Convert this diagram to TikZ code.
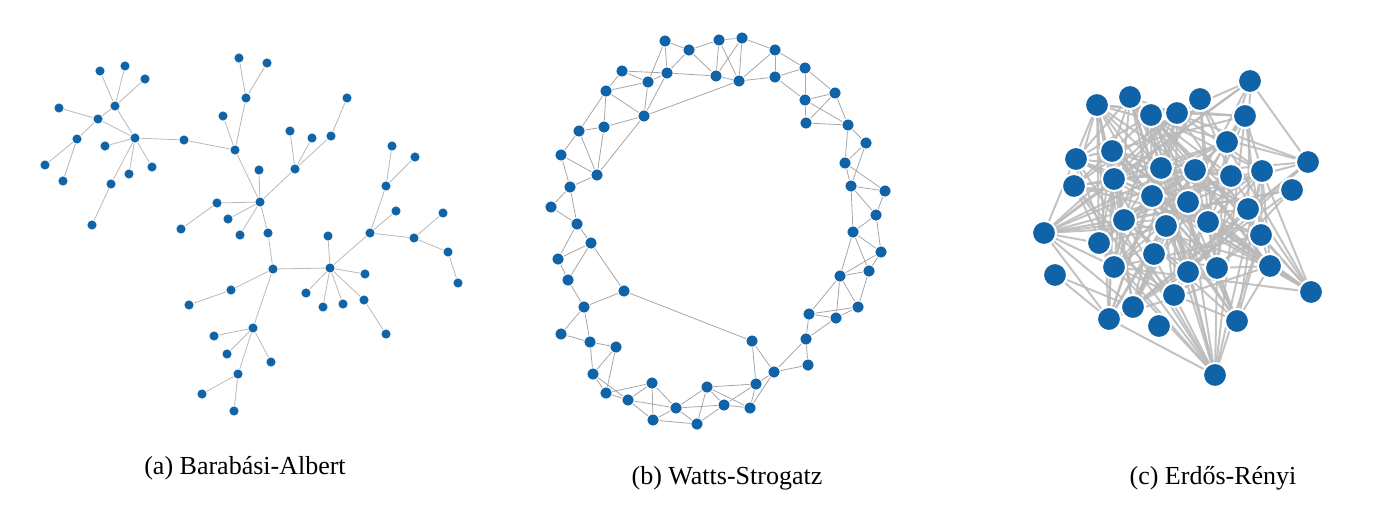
\documentclass[tikz,border=0pt]{standalone}
\usepackage{fontspec}
\setmainfont{Liberation Serif}
\pgfdeclarelayer{bg}
\pgfsetlayers{bg,main}
\definecolor{nblue}{RGB}{16,99,166}
\definecolor{egray}{RGB}{185,185,185}
\tikzset{
  adot/.style={circle,fill=nblue,draw=white,line width=0.3pt,inner sep=0pt,minimum size=5pt},
  bdot/.style={circle,fill=nblue,draw=white,line width=0.4pt,inner sep=0pt,minimum size=6pt},
  cdot/.style={circle,fill=nblue,draw=white,line width=1pt,inner sep=0pt,minimum size=12pt},
  aedge/.style={draw=egray,line width=0.4pt},
  bedge/.style={draw=egray!90!black,line width=0.4pt},
  cedge/.style={draw=egray,line width=1pt,opacity=0.85},
  captext/.style={font=\fontsize{13}{15}\selectfont}
}
\begin{document}
\begin{tikzpicture}[x=0.5pt,y=-0.5pt]
\useasboundingbox (0,0) rectangle (1400,520);
% ---------- (a) ----------
\foreach \n/\x/\y in {A1/135/138,A2/98/119,A3/115/106,A4/100/71,A5/125/66,A6/145/79,A7/59/108,A8/77/139,A9/45/165,A10/63/181,A11/105/146,A12/129/174,A13/152/167,A14/111/184,A15/92/225,A16/184/140,B1/235/150,B2/223/116,B3/246/98,B4/239/58,B5/267/63,C1/260/202,C2/259/170,C3/295/169,C4/290/131,C5/312/138,C6/331/136,C7/347/98,C8/217/203,C9/181/229,C10/228/219,C11/240/235,C12/268/233,D1/273/269,D2/231/290,D3/189/305,E1/253/328,E2/214/336,E3/227/354,E4/271/362,E5/238/374,E6/202/394,E7/234/411,F1/330/268,F2/328/236,F3/365/274,F4/306/293,F5/323/307,F6/343/304,F7/364/300,F8/386/334,G1/370/233,G2/386/186,G3/392/146,G4/415/157,G5/396/211,G6/414/238,G7/443/213,G8/448/252,G9/458/283}
  \node[adot] (\n) at (\x,\y) {};
\begin{pgfonlayer}{bg}
\foreach \a/\b in {A1/A2,A2/A3,A3/A4,A3/A5,A3/A6,A3/A1,A2/A7,A2/A8,A8/A9,A8/A10,A1/A11,A1/A12,A1/A13,A1/A14,A14/A15,A1/A16,A16/B1,B1/B2,B1/B3,B3/B4,B3/B5,B1/C1,C1/C2,C1/C3,C3/C4,C3/C5,C3/C6,C6/C7,C1/C8,C8/C9,C1/C10,C1/C11,C1/C12,C12/D1,D1/D2,D2/D3,D1/E1,E1/E2,E1/E3,E1/E4,E1/E5,E5/E6,E5/E7,D1/F1,F1/F2,F1/F3,F1/F4,F1/F5,F1/F6,F1/F7,F7/F8,F1/G1,G1/G2,G2/G3,G2/G4,G1/G5,G1/G6,G6/G7,G6/G8,G8/G9}
  \draw[aedge] (\a) -- (\b);
\end{pgfonlayer}
% ---------- (b) ----------
\def\bx{{665,719,742,689,775,622,667,716,739,775,805,648,606,835,805,644,806,579,604,848,866,561,597,845,570,851,885,551,577,876,853,591,558,881,568,840,869,624,584,858,809,836,561,590,616,752,806,808,774,593,652,707,756,606,628,676,724,750,653,697}}
\def\by{{41,40,38,50,50,71,73,76,81,77,68,82,91,93,100,116,123,131,127,125,143,155,175,163,187,186,191,207,224,215,232,243,259,252,280,276,271,291,307,307,314,318,334,342,347,341,339,365,372,374,383,387,384,393,400,408,405,408,420,424}}
\foreach \i in {0,...,59}{
  \pgfmathsetmacro\xx{\bx[\i]}\pgfmathsetmacro\yy{\by[\i]}
  \node[bdot] (b\i) at (\xx,\yy) {};
}
\begin{pgfonlayer}{bg}
\foreach \i in {0,...,58}{
  \pgfmathtruncatemacro\s{\i+1}
  \foreach \j in {\s,...,59}{
    \pgfmathtruncatemacro\ok{veclen(\bx[\i]-\bx[\j],\by[\i]-\by[\j])<50 ? 1 : 0}
    \ifnum\ok=1 \draw[bedge] (b\i) -- (b\j);\fi
  }
}
\draw[bedge] (b37) -- (b45);
\draw[bedge] (b15) -- (b8);
\draw[bedge] (b15) -- (b22);
\draw[bedge] (b37) -- (b31);
\end{pgfonlayer}
% ---------- (c) ----------
\def\cx{{1250,1130,1097,1200,1151,1177,1245,1227,1112,1076,1308,1161,1195,1231,1262,1114,1074,1292,1152,1188,1248,1124,1166,1208,1261,1044,1099,1154,1270,1114,1188,1217,1055,1311,1174,1133,1109,1159,1237,1215}}
\def\cy{{81,97,105,99,115,113,116,142,151,159,162,168,170,176,171,179,186,190,196,202,209,220,226,222,235,233,243,254,266,267,272,268,275,292,295,307,319,326,321,375}}
\foreach \i in {0,...,39}{
  \pgfmathsetmacro\xx{\cx[\i]}\pgfmathsetmacro\yy{\cy[\i]}
  \node[cdot] (c\i) at (\xx,\yy) {};
}
\begin{pgfonlayer}{bg}
\foreach \i in {0,...,38}{
  \pgfmathtruncatemacro\s{\i+1}
  \foreach \j in {\s,...,39}{
    \pgfmathtruncatemacro\ok{mod(\i*\j*7+\i*11+\j*5+\j*\j,10)<3 ? 1 : 0}
    \ifnum\ok=1 \draw[cedge] (c\i) -- (c\j);\fi
  }
}
\end{pgfonlayer}
% ---------- captions ----------
\node[captext] (capa) at (245,468) {(a) Barabási-Albert};
\node[captext] (capb) at (727,478) {(b) Watts-Strogatz};
\node[captext] (capc) at (1213,478) {(c) Erdős-Rényi};
\end{tikzpicture}
\end{document}
